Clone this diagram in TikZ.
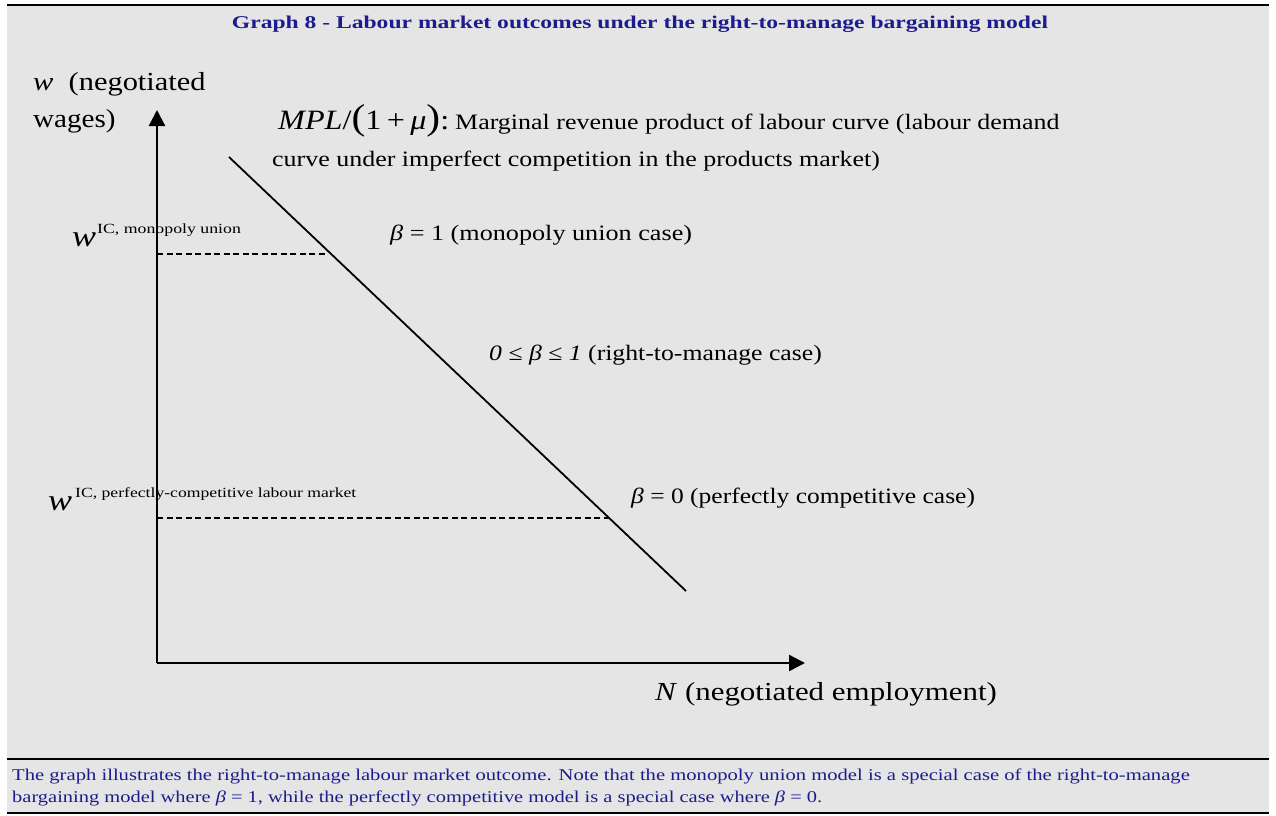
\documentclass[tikz,border=0pt]{standalone}
\usepackage{fontspec}
\setmainfont{Liberation Serif}
\usetikzlibrary{arrows.meta}
\definecolor{panel}{RGB}{229,229,229}
\definecolor{navy}{RGB}{28,28,140}
\newcommand{\fs}[1]{\fontsize{#1}{#1}\selectfont}
\newcommand{\wide}[2]{\scalebox{#1}[1]{#2}}
\tikzset{
  lbl/.style={inner sep=0pt, anchor=base west, text=black},
  axis/.style={line width=2.4pt, -{Triangle[length=16pt,width=16pt]}},
  guide/.style={line width=1.3pt, dash pattern=on 6pt off 3.5pt},
  demand/.style={line width=1.8pt},
  rule/.style={line width=1.4pt}
}
\begin{document}
\begin{tikzpicture}[x=1pt,y=-1pt]
\useasboundingbox (0,0) rectangle (1276,815);
% panel and rules
\fill[panel] (7,5) rectangle (1269,813);
\coordinate (tl) at (7,5);   \coordinate (tr) at (1269,5);
\coordinate (ml) at (7,759); \coordinate (mr) at (1269,759);
\coordinate (bl) at (7,813); \coordinate (br) at (1269,813);
\draw[rule] (tl) -- (tr);
\draw[rule] (ml) -- (mr);
\draw[rule] (bl) -- (br);

% title
\node[inner sep=0pt, anchor=base, text=navy, font=\bfseries\fs{18}] (title) at (640,28)
  {\wide{1.31}{Graph 8 - Labour market outcomes under the right-to-manage bargaining model}};

% axes
\coordinate (O) at (157,663);
\coordinate (ytop) at (157,110);
\coordinate (xend) at (805,663);
\draw[axis] (O) -- (ytop);
\draw[axis] (O) -- (xend);

% demand curve
\coordinate (d0) at (229,157);
\coordinate (d1) at (686,591);
\draw[demand] (d0) -- (d1);

% wage levels
\coordinate (wm0) at (157,254); \coordinate (wm1) at (327,254);
\coordinate (wc0) at (157,518); \coordinate (wc1) at (609,518);
\draw[guide] (wm0) -- (wm1);
\draw[guide] (wc0) -- (wc1);

% axis labels
\node[lbl, font=\fs{26}] (ylab1) at (33,90) {\wide{1.17}{\textit{w}\ \ (negotiated}};
\node[lbl, font=\fs{26}] (ylab2) at (33,127) {\wide{1.12}{wages)}};
\node[lbl, font=\fs{26}] (xlab) at (655,700) {\wide{1.19}{\textit{N} (negotiated employment)}};

% demand curve label
\node[lbl, font=\fs{28}] (mpl) at (278,129)
  {\wide{1.15}{\textit{MPL}/{\fs{36}(}1\,+\,\textit{μ}{\fs{36})}:}};
\node[lbl, font=\fs{22}] (mpl1) at (455,129) {\wide{1.18}{Marginal revenue product of labour curve (labour demand}};
\node[lbl, font=\fs{22}] (mpl2) at (272,166) {\wide{1.18}{curve under imperfect competition in the products market)}};

% wage level labels
\node[lbl, font=\fs{30}] (wm) at (72,246) {\wide{1.2}{\textit{w}}};
\node[lbl, font=\fs{14}] (wmsup) at (97,233) {\wide{1.27}{IC, monopoly union}};
\node[lbl, font=\fs{30}] (wc) at (48,510) {\wide{1.2}{\textit{w}}};
\node[lbl, font=\fs{14}] (wcsup) at (75,497) {\wide{1.26}{IC, perfectly-competitive labour market}};

% bargaining cases
\node[lbl, font=\fs{22}] (c1) at (390,240) {\wide{1.19}{\textit{β} = 1 (monopoly union case)}};
\node[lbl, font=\fs{22}] (c2) at (489,360) {\wide{1.17}{\textit{0} ≤ \textit{β} ≤ \textit{1} (right-to-manage case)}};
\node[lbl, font=\fs{22}] (c3) at (631,503) {\wide{1.16}{\textit{β} = 0 (perfectly competitive case)}};

% caption
\node[lbl, text=navy, font=\fs{16.5}] (cap1) at (12,780)
  {\wide{1.25}{The graph illustrates the right-to-manage labour market outcome. Note that the monopoly union model is a special case of the right-to-manage}};
\node[lbl, text=navy, font=\fs{16.5}] (cap2) at (12,802)
  {\wide{1.24}{bargaining model where \textit{β} = 1, while the perfectly competitive model is a special case where \textit{β} = 0.}};
\end{tikzpicture}
\end{document}
